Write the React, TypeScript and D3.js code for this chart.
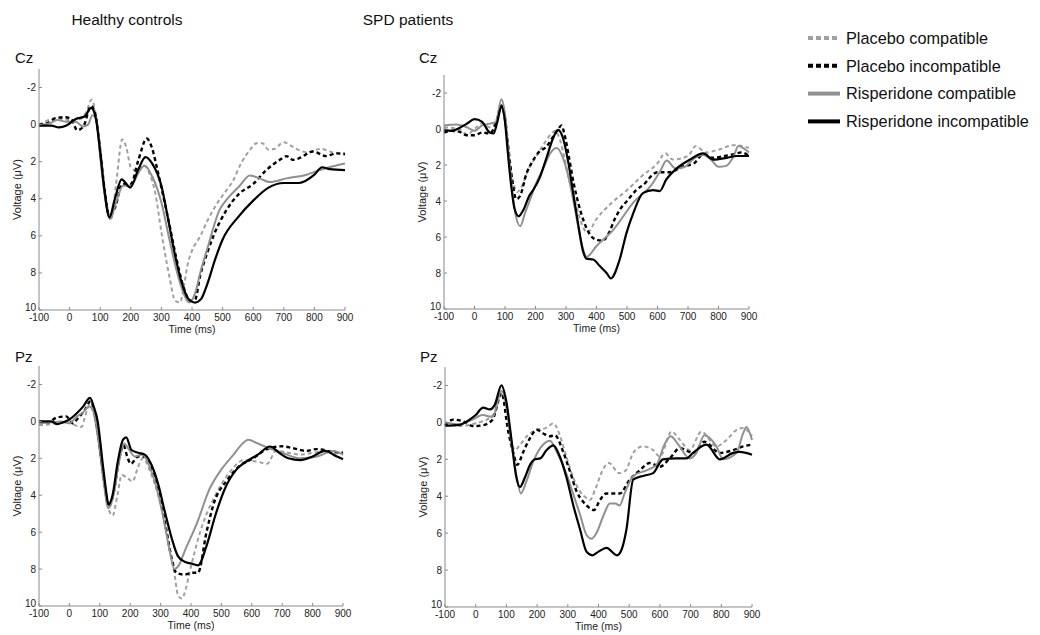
import React from 'react';
import * as d3 from 'd3';

type Pt = [number, number];

// time (ms) / voltage (µV) pairs
// Healthy controls, Cz
const hcCzPlaceboComp: Pt[] = [[-100,0.0],[-75,-0.2],[-50,-0.35],[-20,-0.3],[10,-0.2],[35,-0.3],[55,-0.7],[72,-1.35],[85,-0.6],[100,1.2],[115,3.5],[135,5.1],[152,3.2],[172,0.8],[185,1.2],[200,2.3],[220,2.5],[240,2.2],[260,2.6],[280,3.7],[300,5.8],[325,8.1],[345,9.5],[360,9.6],[375,8.6],[385,7.6],[400,6.8],[426,6.05],[450,5.2],[480,4.3],[510,3.6],[535,3.0],[560,2.1],[590,1.35],[611,1.0],[630,1.0],[650,1.35],[670,1.3],[700,0.95],[720,1.1],[740,1.3],[780,1.5],[820,1.3],[860,1.5],[900,1.55]];
const hcCzPlaceboIncomp: Pt[] = [[-100,0.0],[-70,-0.1],[-45,-0.35],[-15,-0.4],[5,-0.3],[25,0.3],[45,0.1],[70,-1.0],[85,-0.5],[100,1.4],[115,3.6],[130,4.9],[150,4.4],[172,3.2],[200,3.2],[225,1.9],[252,0.75],[270,1.3],[285,2.3],[300,3.4],[325,5.3],[350,7.3],[375,8.9],[395,9.5],[410,9.45],[426,8.2],[450,6.9],[469,6.05],[513,4.6],[556,3.7],[600,3.2],[643,2.45],[687,1.9],[709,1.7],[730,1.9],[752,1.8],[795,1.45],[839,1.7],[870,1.55],[900,1.6]];
const hcCzRispComp: Pt[] = [[-100,0.05],[-60,-0.1],[-40,-0.25],[-10,-0.15],[20,-0.15],[45,0.1],[60,0.0],[75,-0.5],[88,-0.2],[100,1.7],[112,3.5],[133,5.1],[150,4.3],[175,3.3],[200,3.3],[225,2.6],[245,2.2],[270,2.8],[300,4.2],[325,6.1],[350,7.9],[375,9.2],[390,9.6],[410,9.1],[430,7.8],[450,6.7],[490,4.6],[512,4.07],[556,3.3],[589,2.75],[621,2.9],[654,3.1],[709,2.9],[775,2.7],[818,2.45],[862,2.25],[900,2.1]];
const hcCzRispIncomp: Pt[] = [[-100,0.05],[-60,0.05],[-35,0.15],[-10,0.05],[20,-0.3],[50,-0.45],[70,-0.9],[85,-0.4],[100,1.5],[112,3.3],[130,5.0],[148,4.0],[170,2.95],[198,3.4],[225,2.4],[248,1.75],[270,2.1],[300,3.3],[322,5.1],[344,7.0],[366,8.5],[388,9.4],[410,9.6],[430,9.4],[450,8.6],[475,7.3],[500,6.2],[550,5.0],[600,4.1],[650,3.4],[700,3.15],[750,3.15],[800,2.7],[825,2.3],[850,2.4],[900,2.45]];

// SPD patients, Cz
const spdCzPlaceboComp: Pt[] = [[-100,-0.1],[-50,0.0],[-25,0.3],[0,0.0],[25,-0.3],[50,-0.1],[75,-0.5],[88,-1.35],[100,-0.5],[110,1.2],[125,2.8],[140,3.5],[155,3.2],[175,2.3],[200,1.6],[225,0.9],[250,0.3],[265,0.1],[280,0.6],[295,1.6],[310,2.8],[330,4.0],[350,5.2],[370,5.75],[400,5.0],[450,4.1],[500,3.4],[550,2.6],[600,1.9],[625,1.35],[650,1.7],[700,1.5],[725,0.96],[760,1.3],[800,1.15],[850,0.9],[900,1.05]];
const spdCzPlaceboIncomp: Pt[] = [[-100,0.2],[-75,0.1],[-50,0.15],[-25,0.35],[0,0.35],[25,0.2],[50,0.25],[70,-0.3],[88,-1.3],[100,-0.6],[112,1.2],[125,3.0],[137,3.9],[150,3.7],[170,2.5],[190,1.8],[210,1.3],[235,1.0],[255,0.5],[275,0.0],[285,-0.2],[295,0.3],[310,1.6],[325,3.0],[340,4.1],[360,5.2],[380,5.9],[400,6.15],[420,6.2],[440,5.8],[460,5.0],[480,4.4],[500,4.0],[530,3.4],[560,3.0],[580,2.6],[600,2.4],[640,2.4],[680,2.1],[720,1.9],[750,1.4],[780,1.6],[820,1.5],[850,1.4],[875,1.3],[900,1.5]];
const spdCzRispComp: Pt[] = [[-100,-0.2],[-60,-0.25],[-25,-0.1],[0,0.1],[25,-0.2],[50,-0.3],[70,-0.4],[88,-1.65],[100,-0.8],[110,1.0],[122,3.2],[135,4.8],[150,5.4],[165,4.7],[185,3.8],[200,3.1],[225,2.2],[250,1.3],[270,1.05],[290,1.6],[310,2.8],[330,4.5],[350,6.3],[368,7.1],[400,6.5],[455,5.6],[520,4.1],[585,3.0],[610,2.3],[630,1.75],[660,2.2],[690,2.1],[715,1.7],[750,1.45],[775,1.7],[800,2.1],[825,2.05],[850,1.5],[865,0.95],[885,1.1],[900,1.3]];
const spdCzRispIncomp: Pt[] = [[-100,0.05],[-75,0.1],[-50,-0.05],[-25,-0.3],[0,-0.55],[25,-0.4],[50,0.2],[62,0.25],[75,-0.4],[88,-1.25],[100,-0.4],[109,1.25],[120,3.1],[131,4.4],[145,4.85],[160,4.5],[180,3.7],[192,3.4],[214,2.7],[236,1.6],[258,0.5],[274,0.05],[290,0.5],[307,1.8],[323,3.5],[340,5.3],[356,6.8],[367,7.2],[389,7.25],[410,7.6],[433,8.0],[447,8.3],[476,7.25],[498,5.8],[520,4.7],[553,3.55],[586,3.4],[607,3.45],[629,2.8],[662,2.2],[706,1.7],[750,1.35],[783,1.7],[827,1.6],[860,1.5],[900,1.5]];

// Healthy controls, Pz
const hcPzPlaceboComp: Pt[] = [[-100,0.2],[-60,0.15],[-30,0.05],[0,0.1],[25,0.25],[40,0.3],[53,-0.35],[66,-0.9],[80,-0.4],[95,1.0],[112,3.3],[130,4.8],[142,5.1],[158,4.0],[172,2.9],[193,3.1],[208,3.25],[225,2.5],[241,2.0],[270,2.9],[303,4.7],[330,6.9],[346,8.3],[357,9.4],[370,9.6],[384,9.0],[395,8.2],[410,7.2],[430,6.0],[480,4.0],[525,2.8],[574,2.1],[623,2.2],[650,2.3],[680,1.6],[720,1.7],[760,1.8],[800,1.7],[850,1.6],[900,1.8]];
const hcPzPlaceboIncomp: Pt[] = [[-100,0.0],[-70,0.05],[-43,-0.2],[-10,-0.27],[10,0.1],[30,-0.2],[50,-0.6],[70,-1.1],[82,-0.5],[95,0.8],[112,3.0],[130,4.6],[145,3.9],[162,2.2],[178,1.3],[190,1.9],[202,2.3],[226,1.9],[248,1.9],[270,2.6],[290,3.6],[318,5.8],[336,7.4],[352,8.2],[379,8.3],[406,8.2],[423,8.2],[451,6.0],[474,4.5],[518,3.2],[561,2.4],[605,2.0],[650,1.5],[700,1.35],[735,1.45],[780,1.6],[813,1.5],[868,1.65],[900,1.7]];
const hcPzRispComp: Pt[] = [[-100,0.1],[-60,0.05],[-30,0.0],[0,0.1],[20,-0.2],[45,-0.5],[65,-0.8],[80,-0.5],[93,0.5],[110,2.8],[128,4.7],[145,4.0],[162,2.3],[180,1.2],[195,1.5],[215,1.9],[240,1.8],[265,2.5],[290,3.8],[310,5.3],[330,7.0],[345,8.0],[360,7.8],[380,7.0],[420,5.5],[460,3.7],[500,2.6],[540,1.8],[570,1.2],[588,1.0],[620,1.2],[650,1.4],[700,1.7],[760,2.0],[815,1.9],[868,1.6],[900,1.8]];
const hcPzRispIncomp: Pt[] = [[-100,0.0],[-60,0.0],[-40,0.15],[-20,0.05],[0,-0.1],[25,-0.45],[45,-0.8],[68,-1.27],[80,-0.8],[93,0.0],[110,2.35],[121,3.8],[128,4.5],[142,4.0],[159,2.2],[176,1.0],[187,0.87],[204,1.55],[226,1.7],[248,1.8],[270,2.35],[292,3.4],[314,4.9],[336,6.3],[357,7.3],[379,7.6],[401,7.7],[423,7.8],[450,6.8],[480,5.1],[510,3.7],[550,2.6],[580,2.2],[620,1.8],[660,1.36],[690,1.7],[720,2.0],[760,2.1],[800,1.9],[840,1.6],[880,1.9],[900,2.05]];

// SPD patients, Pz
const spdPzPlaceboComp: Pt[] = [[-100,0.0],[-52,0.2],[0,0.05],[45,-0.25],[65,-0.6],[84,-1.5],[100,-0.8],[112,0.6],[128,1.5],[145,1.2],[170,0.7],[200,0.4],[230,0.3],[253,0.05],[274,0.7],[296,1.9],[318,3.0],[340,3.75],[361,4.1],[372,4.2],[390,3.6],[413,2.6],[434,2.2],[467,2.75],[489,2.6],[513,1.65],[545,1.3],[578,1.5],[600,1.85],[638,0.5],[665,0.95],[697,1.5],[735,0.5],[784,1.3],[817,0.95],[850,0.4],[870,0.3],[900,0.75]];
const spdPzPlaceboIncomp: Pt[] = [[-100,0.18],[-73,-0.15],[-41,-0.05],[-8,0.2],[25,0.15],[55,-0.15],[84,-1.6],[106,0.5],[124,1.75],[135,2.3],[155,1.6],[177,0.85],[199,0.4],[220,0.6],[242,0.75],[258,0.7],[285,1.6],[307,2.65],[329,3.75],[350,4.3],[372,4.65],[385,4.75],[405,4.2],[426,3.85],[469,3.85],[502,3.1],[534,2.6],[567,2.2],[600,2.4],[632,1.95],[665,1.4],[708,1.65],[745,1.05],[795,1.65],[839,1.5],[871,1.3],[900,1.2]];
const spdPzRispComp: Pt[] = [[-100,0.0],[-52,0.1],[-10,-0.15],[22,-0.4],[55,-0.3],[84,-1.7],[100,-0.95],[117,1.2],[134,3.0],[147,3.85],[165,3.2],[188,2.1],[220,1.2],[242,1.0],[264,1.6],[296,2.8],[318,3.9],[340,5.0],[361,6.1],[377,6.3],[393,6.0],[415,5.1],[437,4.4],[455,4.4],[469,4.5],[485,3.85],[513,2.9],[556,2.6],[589,2.3],[615,1.2],[635,0.75],[660,1.2],[697,1.95],[719,1.65],[745,0.7],[784,1.3],[806,2.0],[850,1.65],[871,0.6],[882,0.25],[900,0.95]];
const spdPzRispIncomp: Pt[] = [[-100,0.18],[-52,0.13],[-20,-0.15],[0,-0.4],[24,-0.8],[46,-0.7],[62,-0.95],[84,-2.0],[100,-1.1],[117,1.0],[131,2.85],[144,3.5],[160,3.0],[177,2.3],[193,2.0],[210,1.95],[231,1.5],[253,1.25],[274,1.85],[296,3.0],[318,4.5],[340,5.8],[361,7.0],[380,7.2],[400,7.0],[426,6.8],[460,7.2],[475,6.9],[491,5.8],[513,3.1],[545,2.9],[578,2.75],[610,2.0],[653,1.95],[686,1.95],[708,1.65],[752,1.2],[795,2.0],[839,1.65],[860,1.6],[900,1.75]];

const conditions = ['Placebo compatible', 'Placebo incompatible', 'Risperidone compatible', 'Risperidone incompatible'];
const groups = ['Healthy controls', 'SPD patients'];
const xTicks = [-100, 0, 100, 200, 300, 400, 500, 600, 700, 800, 900];
const yTicks = [-2, 0, 2, 4, 6, 8, 10];

const styles = [
  { color: '#a0a0a0', dash: '4,3', width: 2 },
  { color: '#000', dash: '4,3', width: 2.4 },
  { color: '#909090', dash: null, width: 2 },
  { color: '#000', dash: null, width: 2.2 },
];

const panels = [
  { label: 'Cz', x0: 39, x1: 345, y0: 69, y1: 310, lx: 15, ly: 63, series: [hcCzPlaceboComp, hcCzPlaceboIncomp, hcCzRispComp, hcCzRispIncomp] },
  { label: 'Cz', x0: 444, x1: 749, y0: 75, y1: 309, lx: 419, ly: 63, series: [spdCzPlaceboComp, spdCzPlaceboIncomp, spdCzRispComp, spdCzRispIncomp] },
  { label: 'Pz', x0: 39, x1: 343, y0: 366, y1: 606, lx: 15, ly: 362, series: [hcPzPlaceboComp, hcPzPlaceboIncomp, hcPzRispComp, hcPzRispIncomp] },
  { label: 'Pz', x0: 445, x1: 752, y0: 367, y1: 607, lx: 420, ly: 362, series: [spdPzPlaceboComp, spdPzPlaceboIncomp, spdPzRispComp, spdPzRispIncomp] },
];

const font = '"Liberation Sans", Arial, Helvetica, sans-serif';

const Panel = ({ p }: { p: typeof panels[number] }) => {
  const x = d3.scaleLinear().domain([-100, 900]).range([p.x0, p.x1]);
  const y = d3.scaleLinear().domain([-3, 10]).range([p.y0, p.y1]);
  const line = d3.line<Pt>().x(d => x(d[0])).y(d => y(d[1])).curve(d3.curveMonotoneX);
  const axisColor = '#8a8a8a';
  return (
    <g>
      <text x={p.lx} y={p.ly} fontSize={15} fill="#111">{p.label}</text>
      {p.series.map((s, i) => (
        <path key={i} d={line(s) || ''} fill="none" stroke={styles[i].color}
          strokeWidth={styles[i].width} strokeDasharray={styles[i].dash || undefined}
          strokeLinejoin="round" />
      ))}
      <line x1={p.x0} x2={p.x0} y1={p.y0} y2={p.y1} stroke={axisColor} strokeWidth={1} />
      <line x1={p.x0} x2={p.x1} y1={p.y1} y2={p.y1} stroke={axisColor} strokeWidth={1} />
      {yTicks.map(t => (
        <g key={t}>
          <line x1={p.x0} x2={p.x0 + 3} y1={y(t)} y2={y(t)} stroke={axisColor} />
          <text x={p.x0 - 3} y={t === 10 ? y(t) - 3 : y(t)} dy="0.35em" textAnchor="end" fontSize={10} fill="#222">{t}</text>
        </g>
      ))}
      {xTicks.map(t => (
        <g key={t}>
          <line x1={x(t)} x2={x(t)} y1={p.y1} y2={p.y1 - 3} stroke={axisColor} />
          <text x={x(t)} y={p.y1 + 11} textAnchor="middle" fontSize={10} fill="#222">{t}</text>
        </g>
      ))}
      <text x={(p.x0 + p.x1) / 2} y={p.y1 + 23} textAnchor="middle" fontSize={10.5} fill="#222">Time (ms)</text>
      <text transform={`translate(${p.x0 - 18},${(p.y0 + p.y1) / 2}) rotate(-90)`} textAnchor="middle" fontSize={11} fill="#222">Voltage (μV)</text>
    </g>
  );
};

const App = () => {
  return (
    <svg width={1040} height={635} style={{ position: 'absolute', left: 0, top: 0, background: '#fff' }} fontFamily={font}>
      <text x={127} y={25} textAnchor="middle" fontSize={15.5} fill="#111">{groups[0]}</text>
      <text x={408} y={25} textAnchor="middle" fontSize={15.5} fill="#111">{groups[1]}</text>
      {panels.map((p, i) => <Panel key={i} p={p} />)}
      {conditions.map((c, i) => {
        const yy = 38 + i * 27.8;
        return (
          <g key={c}>
            <line x1={808} x2={840} y1={yy} y2={yy} stroke={styles[i].color} strokeWidth={4}
              strokeDasharray={styles[i].dash ? '5,3' : undefined} />
            <text x={846} y={yy} dy="0.35em" fontSize={16.3} fill="#111">{c}</text>
          </g>
        );
      })}
    </svg>
  );
};

export default App;
